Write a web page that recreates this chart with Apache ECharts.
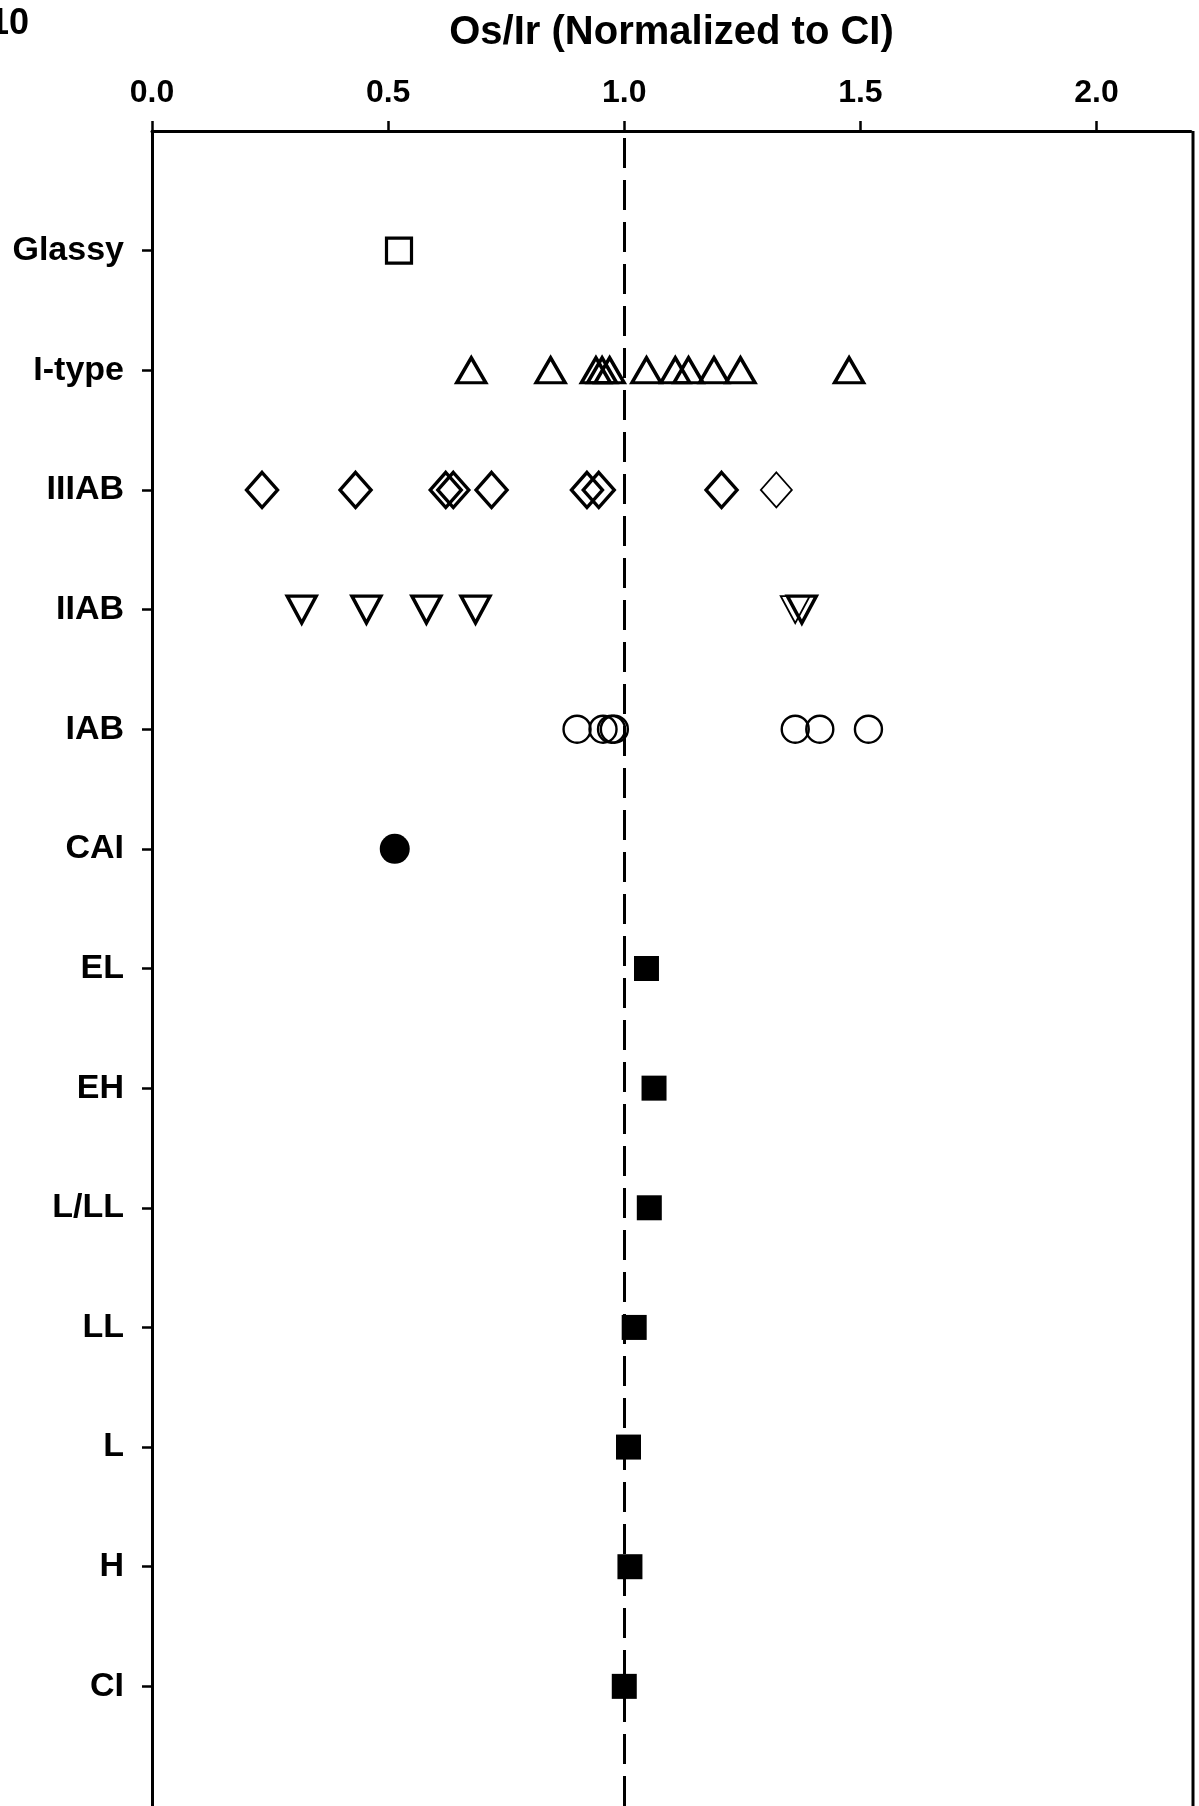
<!DOCTYPE html>
<html>
<head>
<meta charset="utf-8">
<script src="https://cdn.jsdelivr.net/npm/echarts@6/dist/echarts.min.js"></script>
<style>
  html, body { margin: 0; padding: 0; background: #fff; }
  #chart { width: 1199px; height: 1806px; }
</style>
</head>
<body>
<div id="chart"></div>
<script>
// Row labels, top to bottom
const categories = ['Glassy', 'I-type', 'IIIAB', 'IIAB', 'IAB', 'CAI', 'EL', 'EH', 'L/LL', 'LL', 'L', 'H', 'CI'];

// Os/Ir ratios normalized to CI
const glassy = [0.523];
const iType = [0.676, 0.844, 0.940, 0.953, 0.969, 1.047, 1.108, 1.136, 1.190, 1.246, 1.476];
const iiiab = [0.233, 0.431, 0.622, 0.638, 0.719, 0.921, 0.946, 1.206];
const iiiabThin = [1.322];
const iiab = [0.317, 0.454, 0.581, 0.685, 1.376];
const iiabThin = [1.362];
const iab = [0.900, 0.955, 0.973, 0.979, 1.362, 1.414, 1.517];
const cai = [0.514];
const chondriteGroups = ['EL', 'EH', 'L/LL', 'LL', 'L', 'H', 'CI'];
const chondriteValues = [1.047, 1.063, 1.053, 1.021, 1.009, 1.012, 1.000];

// Axis ticks
const xTicks = [0, 0.5, 1.0, 1.5, 2.0];
const xMax = 2.2;
const rowTicks = categories.map((c, i) => categories.length - i);

// Row position of a category (Glassy at the top)
function row(name) { return categories.length - categories.indexOf(name); }
function pts(values, name) { return values.map(v => [v, row(name)]); }

const FONT = '"Liberation Sans", Arial, sans-serif';
const open = (w) => ({ color: 'rgba(0,0,0,0)', borderColor: '#000', borderWidth: w, opacity: 1 });
const solid = { color: '#000', borderWidth: 0, opacity: 1 };

function scatter(name, data, symbol, size, style, extra) {
  return Object.assign({
    type: 'scatter', name: name, data: data, symbol: symbol, symbolSize: size,
    itemStyle: style, silent: true, z: 3
  }, extra || {});
}

const series = [
  scatter('Glassy', pts(glassy, 'Glassy'), 'rect', 25, open(3.2)),
  scatter('I-type', pts(iType, 'I-type'), 'triangle', [29, 25], open(3.4)),
  scatter('IIIAB', pts(iiiab, 'IIIAB'), 'diamond', [31, 35], open(3.4)),
  scatter('IIIAB', pts(iiiabThin, 'IIIAB'), 'diamond', [31, 35], open(1.8)),
  scatter('IIAB', pts(iiab, 'IIAB'), 'triangle', [29, 27], open(3.4), { symbolRotate: 180 }),
  scatter('IIAB', pts(iiabThin, 'IIAB'), 'triangle', [29, 27], open(1.8), { symbolRotate: 180 }),
  scatter('IAB', pts(iab, 'IAB'), 'circle', 27, open(2.4)),
  scatter('CAI', pts(cai, 'CAI'), 'circle', 30, solid),
  scatter('Chondrites', chondriteValues.map((v, i) => [v, row(chondriteGroups[i])]), 'rect', 25, solid, {
    // CI reference line
    markLine: {
      silent: true,
      symbol: 'none',
      label: { show: false },
      lineStyle: { color: '#000', width: 3, type: [30, 12], opacity: 1 },
      data: [{ xAxis: 1.0 }],
      z: 2
    }
  })
];

const chart = echarts.init(document.getElementById('chart'), null, { renderer: 'canvas' });
chart.setOption({
  backgroundColor: '#fff',
  animation: false,
  grid: { left: 152, right: 8, top: 131, bottom: -6, show: false, containLabel: false },
  xAxis: {
    type: 'value', position: 'top', min: 0, max: xMax,
    name: 'Os/Ir (Normalized to CI)', nameLocation: 'middle', nameGap: 78,
    nameTextStyle: { fontFamily: FONT, fontWeight: 'bold', fontSize: 40, color: '#000' },
    axisLine: { show: true, onZero: false, lineStyle: { color: '#000', width: 3 } },
    axisTick: { show: true, length: 10, inside: false, customValues: xTicks, lineStyle: { color: '#000', width: 2.5 } },
    axisLabel: {
      show: true, margin: 22, customValues: xTicks,
      fontFamily: FONT, fontWeight: 'bold', fontSize: 32, color: '#000',
      formatter: v => v.toFixed(1)
    },
    splitLine: { show: false }
  },
  yAxis: {
    type: 'value', min: 0, max: categories.length + 1,
    axisLine: { show: true, onZero: false, lineStyle: { color: '#000', width: 3 } },
    axisTick: { show: true, length: 10, customValues: rowTicks, lineStyle: { color: '#000', width: 2.5 } },
    axisLabel: {
      show: true, margin: 28, customValues: rowTicks,
      fontFamily: FONT, fontWeight: 'bold', fontSize: 34, color: '#000',
      formatter: v => categories[categories.length - v] || ''
    },
    splitLine: { show: false }
  },
  graphic: [
    // right frame edge
    { type: 'line', shape: { x1: 1193, y1: 131, x2: 1193, y2: 1806 }, style: { stroke: '#000', lineWidth: 3 }, z: 10 },
    // figure number
    { type: 'text', left: -11, top: 6, style: { text: '10', font: 'bold 36px ' + FONT, fill: '#000' }, z: 10 }
  ],
  series: series
});
</script>
</body>
</html>
